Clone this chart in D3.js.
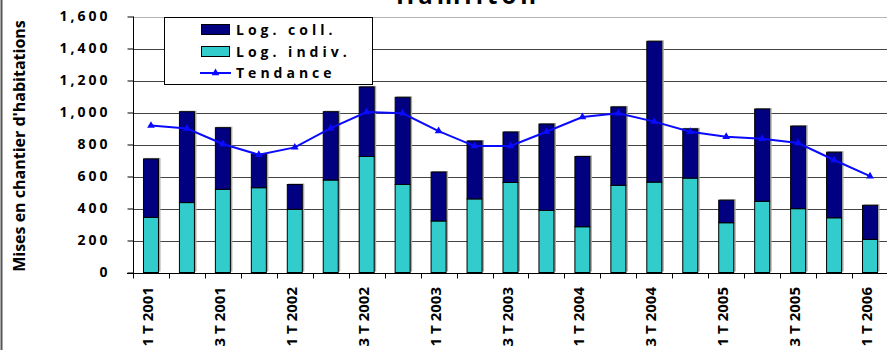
<!DOCTYPE html>
<html>
<head>
<meta charset="utf-8">
<script src="https://cdn.jsdelivr.net/npm/d3@7"></script>
<style>
  html, body { margin: 0; padding: 0; background: #fff; overflow: hidden; }
  text { font-family: "Open Sans", "DejaVu Sans", sans-serif; font-weight: bold; fill: #000; }
</style>
</head>
<body>
<svg id="chart" width="887" height="350"></svg>
<script>
// Quarterly housing starts, Hamilton
const quarters = [
  "1 T 2001", "2 T 2001", "3 T 2001", "4 T 2001",
  "1 T 2002", "2 T 2002", "3 T 2002", "4 T 2002",
  "1 T 2003", "2 T 2003", "3 T 2003", "4 T 2003",
  "1 T 2004", "2 T 2004", "3 T 2004", "4 T 2004",
  "1 T 2005", "2 T 2005", "3 T 2005", "4 T 2005",
  "1 T 2006"
];
const logIndiv = [345, 437, 520, 530, 395, 578, 725, 550, 322, 460, 563, 388, 286, 545, 565, 590, 311, 445, 399, 342, 207];
const logColl  = [365, 568, 385, 210, 155, 427, 435, 545, 306, 362, 315, 540, 439, 490, 880, 308, 141, 577, 516, 410, 213];
const tendance = [918, 900, 803, 736, 782, 902, 1003, 995, 884, 790, 791, 880, 972, 995, 943, 880, 848, 836, 809, 703, 602];
const yTicks = [0, 200, 400, 600, 800, 1000, 1200, 1400, 1600];
const seriesNames = ["Log. coll.", "Log. indiv.", "Tendance"];
const title = "Hamilton";
const yTitle = "Mises en chantier d'habitations";

const colors = { coll: "#000080", indiv: "#33CCCC", trend: "#0a0aff" };

const svg = d3.select("#chart");

// frame edge on the left
svg.append("line").attr("x1", 1.5).attr("x2", 1.5).attr("y1", 0).attr("y2", 350)
  .attr("stroke", "#555").attr("stroke-width", 2);

const x = d3.scaleBand().domain(quarters).range([133, 888])
  .paddingInner(0.555).paddingOuter(0.2775);
const y = d3.scaleLinear().domain([0, 1600]).range([272.5, 16.5]);
const step = x.step();
const bw = x.bandwidth();
const x0 = x.range()[0], x1 = x.range()[1];

// gridlines
svg.append("g").selectAll("line").data(yTicks.filter(t => t > 0)).join("line")
  .attr("x1", x0).attr("x2", x1)
  .attr("y1", d => Math.round(y(d)) + 0.5).attr("y2", d => Math.round(y(d)) + 0.5)
  .attr("stroke", d => d === 1600 ? "#b4b4b4" : "#444").attr("stroke-width", 1);

// y axis
const yAxis = svg.append("g").attr("transform", `translate(${x0 + 0.5},0)`)
  .call(d3.axisLeft(y).tickValues(yTicks).tickSize(6).tickPadding(17).tickFormat(d3.format(",")));
yAxis.select(".domain").attr("stroke", "#000").attr("d", `M0,${y(1600)}V${Math.round(y(0)) + 0.5}`);
yAxis.selectAll(".tick line").attr("stroke", "#000");
yAxis.selectAll(".tick text").style("font-family", "'Open Sans', sans-serif").style("font-weight", "bold")
  .style("font-size", "14px").style("letter-spacing", "3px").attr("fill", "#000");

// stacked bars
const rows = quarters.map((q, i) => ({ q, indiv: logIndiv[i], coll: logColl[i] }));
const stacked = d3.stack().keys(["indiv", "coll"])(rows);

const barG = svg.append("g");
// soft shadow behind each bar
barG.selectAll("rect.shadow").data(rows).join("rect").attr("class", "shadow")
  .attr("x", d => x(d.q) + 1.5).attr("width", bw)
  .attr("y", d => y(d.indiv + d.coll) - 1).attr("height", d => y(0) - y(d.indiv + d.coll))
  .attr("fill", "#a8a8a8");

stacked.forEach(layer => {
  barG.append("g").selectAll("rect").data(layer).join("rect")
    .attr("x", d => x(d.data.q) + 0.5).attr("width", bw - 1)
    .attr("y", d => y(d[1])).attr("height", d => y(d[0]) - y(d[1]))
    .attr("fill", layer.key === "indiv" ? colors.indiv : colors.coll)
    .attr("stroke", "#000").attr("stroke-width", 1);
});

// x axis
const xa = svg.append("g");
const y0 = Math.round(y(0)) + 0.5;
xa.append("line").attr("x1", x0 - 6).attr("x2", x1).attr("y1", y0).attr("y2", y0).attr("stroke", "#000");
const bounds = d3.range(quarters.length + 1).map(i => x0 + i * step);
xa.selectAll("line.tk").data(bounds).join("line").attr("class", "tk")
  .attr("x1", d => Math.round(d) + 0.5).attr("x2", d => Math.round(d) + 0.5)
  .attr("y1", y0).attr("y2", y0 + 5).attr("stroke", "#000");
xa.selectAll("text").data(quarters.filter((q, i) => i % 2 === 0)).join("text")
  .attr("transform", d => `translate(${x(d) + bw / 2 + 2},287) rotate(-90)`)
  .attr("text-anchor", "end")
  .style("font-size", "15px")
  .text(d => d);

// trend line
const cx = (q) => x(q) + bw / 2;
svg.append("path").datum(tendance)
  .attr("d", d3.line().x((d, i) => cx(quarters[i])).y(d => y(d)))
  .attr("fill", "none").attr("stroke", colors.trend).attr("stroke-width", 2);
svg.append("g").selectAll("path").data(tendance).join("path")
  .attr("transform", (d, i) => `translate(${cx(quarters[i])},${y(d)})`)
  .attr("d", d3.symbol(d3.symbolTriangle, 26))
  .attr("fill", colors.trend);

// title (runs off the top edge)
svg.append("text").attr("x", 468).attr("y", 4).attr("text-anchor", "middle")
  .style("font-size", "24px").style("letter-spacing", "4px").text(title);

// y title
svg.append("text").attr("transform", "translate(25,146) rotate(-90)")
  .attr("text-anchor", "middle").style("font-size", "16px").text(yTitle);

// legend
const lg = svg.append("g");
lg.append("rect").attr("x", 164.5).attr("y", 17.5).attr("width", 208).attr("height", 67)
  .attr("fill", "#fff").attr("stroke", "#000");
const rowsY = [29.5, 51.5, 73];
lg.append("rect").attr("x", 201.5).attr("y", rowsY[0] - 5).attr("width", 28).attr("height", 10)
  .attr("fill", colors.coll).attr("stroke", "#000");
lg.append("rect").attr("x", 201.5).attr("y", rowsY[1] - 5).attr("width", 28).attr("height", 10)
  .attr("fill", colors.indiv).attr("stroke", "#000");
lg.append("line").attr("x1", 200).attr("x2", 231).attr("y1", rowsY[2]).attr("y2", rowsY[2])
  .attr("stroke", colors.trend).attr("stroke-width", 2);
lg.append("path").attr("transform", `translate(215.5,${rowsY[2]})`)
  .attr("d", d3.symbol(d3.symbolTriangle, 26)).attr("fill", colors.trend);
lg.selectAll("text").data(seriesNames).join("text")
  .attr("x", 236).attr("y", (d, i) => rowsY[i] + 5)
  .style("font-size", "14px").style("letter-spacing", "4px").text(d => d);
</script>
</body>
</html>
